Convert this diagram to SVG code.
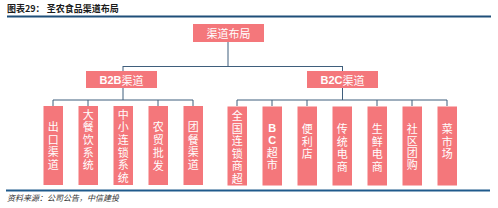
<svg xmlns="http://www.w3.org/2000/svg" width="498" height="208" viewBox="0 0 498 208">
<style>
.box{fill:#F4777B}
.t{fill:#fff;font-family:"Noto Sans CJK SC",sans-serif;font-size:11px;text-anchor:middle;dominant-baseline:central}
.b{font-family:"Liberation Sans","Noto Sans CJK SC",sans-serif;font-weight:bold}
.conn line{stroke:#3F5E7C;stroke-width:1}
</style>
<rect width="498" height="208" fill="#fff"/>
<text x="7" y="12" font-family="'Noto Sans CJK SC',sans-serif" font-size="9" font-weight="bold" fill="#1a1a1a">图表29：  圣农食品渠道布局</text>
<line x1="7" y1="16.5" x2="491" y2="16.5" stroke="#1F4E79" stroke-width="2"/>
<g class="conn">
<line x1="228" y1="42" x2="228" y2="66.5"/>
<line x1="123" y1="66.5" x2="342.5" y2="66.5"/>
<line x1="123" y1="66" x2="123" y2="71"/>
<line x1="342.5" y1="66" x2="342.5" y2="71"/>
<line x1="123" y1="88" x2="123" y2="100"/>
<line x1="53" y1="100" x2="193" y2="100"/>
<line x1="53" y1="100" x2="53" y2="106"/>
<line x1="88" y1="100" x2="88" y2="106"/>
<line x1="158" y1="100" x2="158" y2="106"/>
<line x1="193" y1="100" x2="193" y2="106"/>
<line x1="342.5" y1="88" x2="342.5" y2="100"/>
<line x1="237" y1="100" x2="447" y2="100"/>
<line x1="237" y1="100" x2="237" y2="106"/>
<line x1="272" y1="100" x2="272" y2="106"/>
<line x1="307" y1="100" x2="307" y2="106"/>
<line x1="377" y1="100" x2="377" y2="106"/>
<line x1="412" y1="100" x2="412" y2="106"/>
<line x1="447" y1="100" x2="447" y2="106"/>
</g>
<g id="root"><rect class="box" x="193" y="24" width="71" height="18"/><text class="t" x="228.5" y="33">渠道布局</text></g>
<g id="b2b"><rect class="box" x="86" y="71" width="71" height="17"/><text class="t" x="121.5" y="79.5"><tspan class="b">B2B</tspan>渠道</text></g>
<g id="b2c"><rect class="box" x="307" y="71" width="71" height="17"/><text class="t" x="342.5" y="79.5"><tspan class="b">B2C</tspan>渠道</text></g>
<g id="n1"><rect class="box" x="43.5" y="106" width="19.5" height="79"/><text class="t"><tspan x="53.2" y="126">出</tspan><tspan x="53.2" y="138.5">口</tspan><tspan x="53.2" y="151">渠</tspan><tspan x="53.2" y="163.5">道</tspan></text></g>
<g id="n2"><rect class="box" x="78.5" y="106" width="19.5" height="79"/><text class="t"><tspan x="88.2" y="113.5">大</tspan><tspan x="88.2" y="126.2">餐</tspan><tspan x="88.2" y="138.9">饮</tspan><tspan x="88.2" y="151.6">系</tspan><tspan x="88.2" y="164.3">统</tspan></text></g>
<g id="n3"><rect class="box" x="113.5" y="106" width="19.5" height="79"/><text class="t"><tspan x="123.2" y="113.5">中</tspan><tspan x="123.2" y="126.2">小</tspan><tspan x="123.2" y="138.9">连</tspan><tspan x="123.2" y="151.6">锁</tspan><tspan x="123.2" y="164.3">系</tspan><tspan x="123.2" y="177">统</tspan></text></g>
<g id="n4"><rect class="box" x="148.5" y="106" width="19.5" height="79"/><text class="t"><tspan x="158.2" y="126">农</tspan><tspan x="158.2" y="139">贸</tspan><tspan x="158.2" y="152">批</tspan><tspan x="158.2" y="165">发</tspan></text></g>
<g id="n5"><rect class="box" x="183.5" y="106" width="19.5" height="79"/><text class="t"><tspan x="193.2" y="126">团</tspan><tspan x="193.2" y="138.5">餐</tspan><tspan x="193.2" y="151">渠</tspan><tspan x="193.2" y="163.5">道</tspan></text></g>
<g id="n6"><rect class="box" x="227.5" y="106.5" width="19.5" height="79"/><text class="t"><tspan x="237.2" y="115">全</tspan><tspan x="237.2" y="127.6">国</tspan><tspan x="237.2" y="140.2">连</tspan><tspan x="237.2" y="152.8">锁</tspan><tspan x="237.2" y="165.4">商</tspan><tspan x="237.2" y="178">超</tspan></text></g>
<g id="n7"><rect class="box" x="262.5" y="106.5" width="19.5" height="79"/><text class="t"><tspan class="b" x="272.2" y="128">B</tspan><tspan class="b" x="272.2" y="140">C</tspan><tspan x="272.2" y="152">超</tspan><tspan x="272.2" y="164">市</tspan></text></g>
<g id="n8"><rect class="box" x="297.5" y="106.5" width="19.5" height="79"/><text class="t"><tspan x="307.2" y="128">便</tspan><tspan x="307.2" y="140.5">利</tspan><tspan x="307.2" y="153">店</tspan></text></g>
<g id="n9"><rect class="box" x="332.5" y="106.5" width="19.5" height="79"/><text class="t"><tspan x="342.2" y="128">传</tspan><tspan x="342.2" y="140.5">统</tspan><tspan x="342.2" y="153">电</tspan><tspan x="342.2" y="165.5">商</tspan></text></g>
<g id="n10"><rect class="box" x="367.5" y="106.5" width="19.5" height="79"/><text class="t"><tspan x="377.2" y="128">生</tspan><tspan x="377.2" y="140.5">鲜</tspan><tspan x="377.2" y="153">电</tspan><tspan x="377.2" y="165.5">商</tspan></text></g>
<g id="n11"><rect class="box" x="402.5" y="106.5" width="19.5" height="79"/><text class="t"><tspan x="412.2" y="128">社</tspan><tspan x="412.2" y="140">区</tspan><tspan x="412.2" y="152">团</tspan><tspan x="412.2" y="164">购</tspan></text></g>
<g id="n12"><rect class="box" x="437.5" y="106.5" width="19.5" height="79"/><text class="t"><tspan x="447.2" y="128">菜</tspan><tspan x="447.2" y="140.5">市</tspan><tspan x="447.2" y="153">场</tspan></text></g>
<line x1="6" y1="190.5" x2="490" y2="190.5" stroke="#1F5A8C" stroke-width="2"/>
<text x="7" y="201" font-family="'Noto Sans CJK SC',sans-serif" font-size="8" font-style="italic" fill="#333">资料来源：公司公告，中信建投</text>
</svg>
